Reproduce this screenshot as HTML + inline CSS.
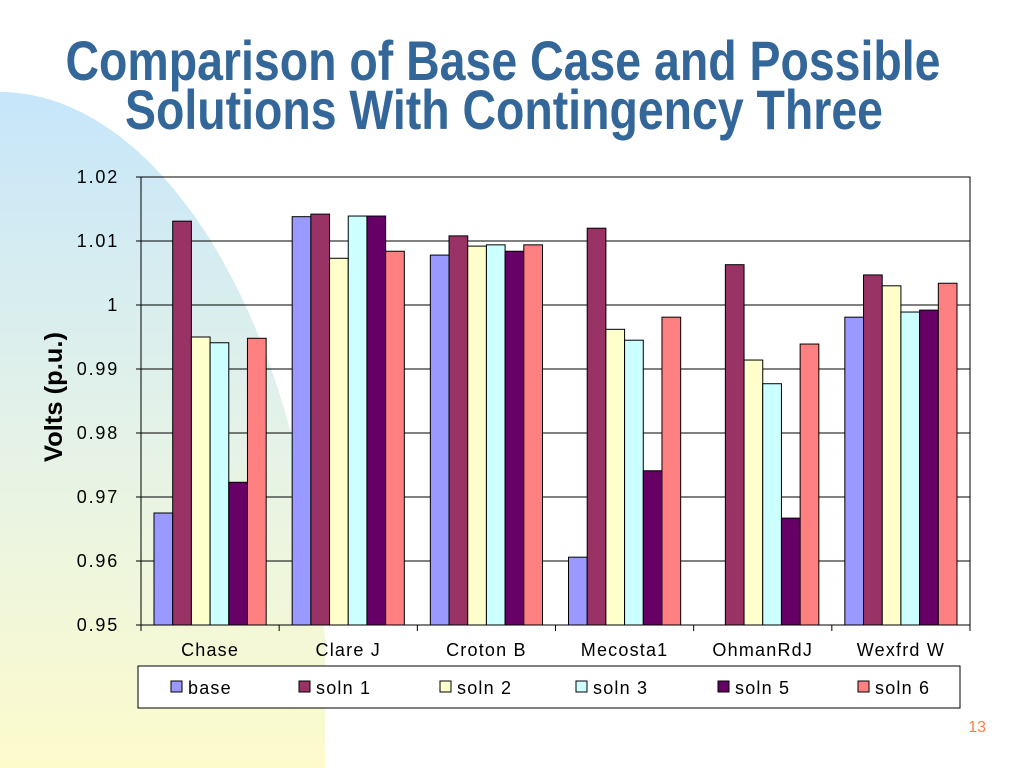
<!DOCTYPE html>
<html><head><meta charset="utf-8"><style>
html,body{margin:0;padding:0;background:#fff;}
svg{display:block;font-family:"Liberation Sans",sans-serif;}
</style></head><body>
<svg id="c" width="1024" height="768" viewBox="0 0 1024 768">
<defs><linearGradient id="bg" x1="0" y1="0" x2="0" y2="1">
<stop offset="0" stop-color="#c6e6fa"/><stop offset="0.5" stop-color="#e4f2e8"/><stop offset="1" stop-color="#fdfbcc"/></linearGradient></defs>
<path d="M0,92 C150,92 300,300 325,640 L325,768 L0,768 Z" fill="url(#bg)"/>
<text x="503" y="80" text-anchor="middle" font-family="Liberation Sans Narrow, Liberation Sans, sans-serif" font-weight="bold" font-size="56" fill="#336699" textLength="875" lengthAdjust="spacingAndGlyphs">Comparison of Base Case and Possible</text>
<text x="504" y="129" text-anchor="middle" font-family="Liberation Sans Narrow, Liberation Sans, sans-serif" font-weight="bold" font-size="56" fill="#336699" textLength="758" lengthAdjust="spacingAndGlyphs">Solutions With Contingency Three</text>
<text transform="translate(62,397) rotate(-90)" text-anchor="middle" font-family="Liberation Sans Narrow, Liberation Sans, sans-serif" font-weight="bold" font-size="25" fill="#000" textLength="130" lengthAdjust="spacingAndGlyphs">Volts (p.u.)</text>
<g id="plot"></g>
<rect x="138" y="666" width="822" height="42" fill="#fff" stroke="#000" stroke-width="1"/>
<g id="leg"></g>
<text x="986" y="732" text-anchor="end" font-size="16" fill="#ff8040">13</text>
</svg>
<script>
const categories=["Chase","Clare J","Croton B","Mecosta1","OhmanRdJ","Wexfrd W"];
const seriesNames=["base","soln 1","soln 2","soln 3","soln 5","soln 6"];
const seriesColors=["#9999ff","#993366","#ffffcc","#ccffff","#660066","#ff8080"];
const base=[0.9675,1.0138,1.0078,0.9606,null,0.9981];
const soln1=[1.0131,1.0142,1.0108,1.0120,1.0063,1.0047];
const soln2=[0.9950,1.0073,1.0092,0.9962,0.9914,1.0030];
const soln3=[0.9941,1.0139,1.0094,0.9945,0.9877,0.9989];
const soln5=[0.9723,1.0139,1.0084,0.9741,0.9667,0.9992];
const soln6=[0.9948,1.0084,1.0094,0.9981,0.9939,1.0034];
const yTicks=["0.95","0.96","0.97","0.98","0.99","1","1.01","1.02"];
const series=[base,soln1,soln2,soln3,soln5,soln6];
const NS="http://www.w3.org/2000/svg";
const X0=141,X1=970,Y0=625,Y1=177,YMIN=0.95,YMAX=1.02;
const y=v=>Y0-(v-YMIN)/(YMAX-YMIN)*(Y0-Y1);
const cw=(X1-X0)/categories.length;
const x=i=>X0+i*cw;
function mk(t,a,p){const e=document.createElementNS(NS,t);for(const k in a)e.setAttribute(k,a[k]);p.appendChild(e);return e;}
const g=document.getElementById('plot');
yTicks.forEach(t=>{const yy=y(parseFloat(t));
 const l=mk('line',{x1:X0-5,x2:X1,y1:yy,y2:yy,stroke:'#000','stroke-width':1},g);
 
 
 const tx=mk('text',{x:X0-22,y:yy+6,'text-anchor':'end','font-size':18,'letter-spacing':1.8,fill:'#000'},g);tx.textContent=t;
 
 
});
const bw=(cw-26)/seriesNames.length;
categories.forEach((c,i)=>{
 series.forEach((s,j)=>{const v=s[i];if(v==null||v<=YMIN)return;
  const r=mk('rect',{x:x(i)+13+j*bw,y:y(v),width:bw,height:Y0-y(v),fill:seriesColors[j],stroke:'#000','stroke-width':1},g);
  
  
 });
 const t=mk('text',{x:x(i)+cw/2,y:656,'text-anchor':'middle','font-size':18,'letter-spacing':1.2,fill:'#000'},g);t.textContent=c;
 
 
});
for(let i=0;i<=categories.length;i++){const tk=mk('line',{x1:x(i),x2:x(i),y1:Y0,y2:Y0+6,stroke:'#000'},g);
 
 }
const ax=mk('rect',{x:X0,y:Y1,width:X1-X0,height:Y0-Y1,fill:'none',stroke:'#000','stroke-width':1},g);


const lg=document.getElementById('leg');
const lx=[171,299,440,576,718,858];
seriesNames.forEach((n,j)=>{
 const r=mk('rect',{x:lx[j],y:681,width:11,height:11,fill:seriesColors[j],stroke:'#000'},lg);
 
 
 const t=mk('text',{x:lx[j]+17,y:694,'font-size':18,'letter-spacing':1.2,fill:'#000'},lg);t.textContent=n;
 
 
});
</script>
</body></html>
